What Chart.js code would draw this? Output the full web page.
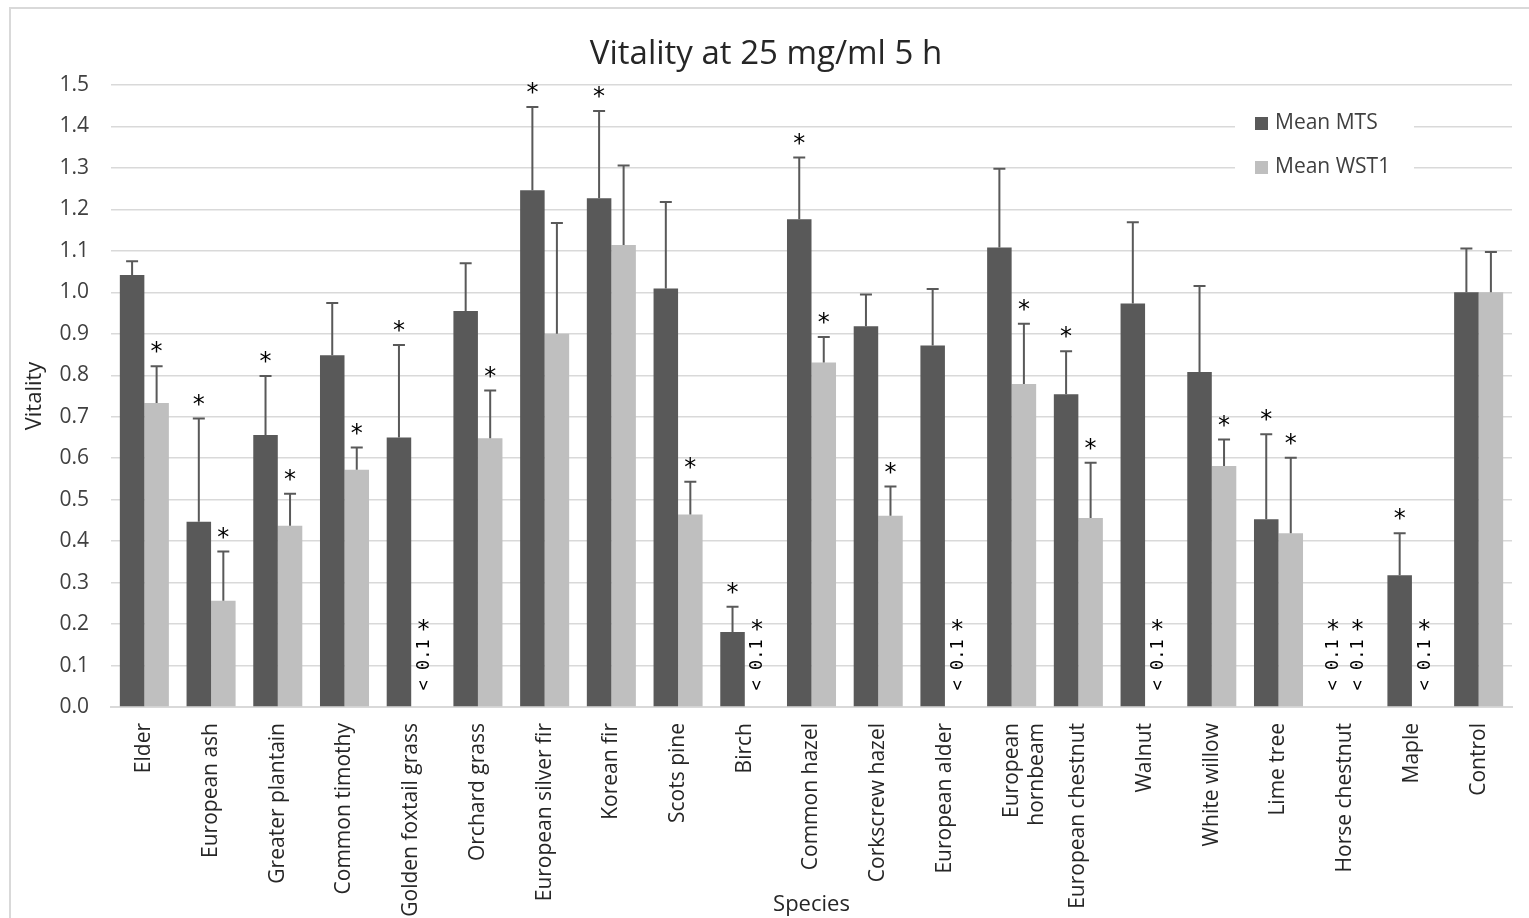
<!DOCTYPE html>
<html>
<head>
<meta charset="utf-8">
<title>Vitality at 25 mg/ml 5 h</title>
<script src="https://cdn.jsdelivr.net/npm/chart.js@4.4.1/dist/chart.umd.min.js"></script>
<style>
  body { margin: 0; background: #fff; }
  #chart { display: block; }
</style>
</head>
<body>
<canvas id="chart" width="1529" height="918"></canvas>
<script>
const categories = [
    'Elder', 'European ash', 'Greater plantain', 'Common timothy', 'Golden foxtail grass',
    'Orchard grass', 'European silver fir', 'Korean fir', 'Scots pine', 'Birch',
    'Common hazel', 'Corkscrew hazel', 'European alder', ['European', 'hornbeam'],
    'European chestnut', 'Walnut', 'White willow', 'Lime tree', 'Horse chestnut', 'Maple', 'Control'
];

// null = below 0.1, shown as "< 0.1"
const mtsMean = [1.042, 0.447, 0.656, 0.848, 0.650, 0.955, 1.246, 1.227, 1.009, 0.181,
    1.176, 0.918, 0.872, 1.108, 0.754, 0.973, 0.808, 0.453, null, 0.318, 1.000];
const mtsErr = [0.033, 0.249, 0.142, 0.126, 0.223, 0.115, 0.201, 0.210, 0.209, 0.061,
    0.149, 0.077, 0.136, 0.190, 0.104, 0.196, 0.207, 0.205, null, 0.101, 0.106];
const mtsSig = [false, true, true, false, true, false, true, true, false, true,
    true, false, false, false, true, false, false, true, true, true, false];

const wst1Mean = [0.733, 0.256, 0.437, 0.572, null, 0.648, 0.900, 1.114, 0.464, null,
    0.831, 0.461, null, 0.779, 0.456, null, 0.581, 0.419, null, null, 1.000];
const wst1Err = [0.089, 0.119, 0.077, 0.054, null, 0.115, 0.267, 0.192, 0.079, null,
    0.061, 0.071, null, 0.145, 0.133, null, 0.064, 0.182, null, null, 0.097];
const wst1Sig = [true, true, true, true, true, true, false, false, true, true,
    true, true, true, true, true, true, true, true, true, true, false];

const yTicks = ['0.0', '0.1', '0.2', '0.3', '0.4', '0.5', '0.6', '0.7',
    '0.8', '0.9', '1.0', '1.1', '1.2', '1.3', '1.4', '1.5'];

const darkGray = '#595959';
const lightGray = '#bfbfbf';
const catPct = 0.735;

const series = [
    { mean: mtsMean, err: mtsErr, sig: mtsSig },
    { mean: wst1Mean, err: wst1Err, sig: wst1Sig }
];

// error bars, asterisks, "< 0.1" notes and the legend box
const extras = {
    id: 'extras',
    afterDatasetsDraw(chart) {
        const ctx = chart.ctx;
        const x = chart.scales.x;
        const y = chart.scales.y;
        const barW = x.width / categories.length * catPct / 2;
        ctx.save();
        series.forEach((s, di) => {
            for (let i = 0; i < categories.length; i++) {
                const xc = x.getPixelForValue(i) + (di === 0 ? -barW / 2 : barW / 2);
                if (s.mean[i] === null) {
                    ctx.save();
                    ctx.translate(xc, y.getPixelForValue(0.04));
                    ctx.rotate(-Math.PI / 2);
                    ctx.fillStyle = '#000';
                    ctx.font = '17px "DejaVu Sans Mono"';
                    ctx.textAlign = 'left';
                    ctx.textBaseline = 'middle';
                    ctx.fillText('< 0.1', 0, 1);
                    ctx.restore();
                    if (s.sig[i]) drawStar(ctx, xc, y.getPixelForValue(0.195));
                    continue;
                }
                const top = y.getPixelForValue(s.mean[i] + s.err[i]);
                ctx.strokeStyle = darkGray;
                ctx.lineWidth = 2;
                ctx.beginPath();
                ctx.moveTo(xc, y.getPixelForValue(s.mean[i]));
                ctx.lineTo(xc, top);
                ctx.moveTo(xc - 6, top);
                ctx.lineTo(xc + 6, top);
                ctx.stroke();
                if (s.sig[i]) drawStar(ctx, xc, top - 18);
            }
        });

        // legend
        const lx = chart.chartArea.right - 277;
        const ly = chart.chartArea.top + 15;
        ctx.fillStyle = '#fff';
        ctx.fillRect(lx, ly, 179, 90);
        const items = [['Mean MTS', darkGray], ['Mean WST1', lightGray]];
        items.forEach((it, k) => {
            const cy = ly + 23 + k * 44;
            ctx.fillStyle = it[1];
            ctx.fillRect(lx + 20, cy - 6, 13, 13);
            ctx.fillStyle = '#404040';
            ctx.font = '21px "Open Sans"';
            ctx.textAlign = 'left';
            ctx.textBaseline = 'middle';
            ctx.fillText(it[0], lx + 40, cy);
        });
        ctx.restore();
    },
    afterDraw(chart) {
        const ctx = chart.ctx;
        ctx.save();
        ctx.strokeStyle = '#d9d9d9';
        ctx.lineWidth = 2;
        ctx.beginPath();
        ctx.moveTo(10, 930);
        ctx.lineTo(10, 8);
        ctx.lineTo(1529, 8);
        ctx.stroke();
        ctx.restore();
    }
};

function drawStar(ctx, xc, yc) {
    ctx.save();
    ctx.fillStyle = '#000';
    ctx.font = '24px "DejaVu Sans"';
    ctx.textAlign = 'center';
    ctx.textBaseline = 'middle';
    ctx.fillText('*', xc, yc + 5);
    ctx.restore();
}

const ctx = document.getElementById('chart').getContext('2d');
new Chart(ctx, {
    type: 'bar',
    data: {
        labels: categories,
        datasets: [
            { label: 'Mean MTS', data: mtsMean, backgroundColor: darkGray },
            { label: 'Mean WST1', data: wst1Mean, backgroundColor: lightGray }
        ]
    },
    options: {
        responsive: false,
        animation: false,
        datasets: { bar: { categoryPercentage: catPct, barPercentage: 1 } },
        layout: { padding: { left: 20, right: 17, top: 10, bottom: 0 } },
        plugins: {
            legend: { display: false },
            tooltip: { enabled: false },
            title: {
                display: true,
                text: 'Vitality at 25 mg/ml 5 h',
                color: '#262626',
                font: { family: 'Open Sans', size: 33, weight: 'normal' },
                padding: { top: 25, bottom: 10.4 }
            }
        },
        scales: {
            x: {
                grid: { display: false },
                border: { color: '#d9d9d9', width: 2 },
                ticks: {
                    minRotation: 90, maxRotation: 90, autoSkip: false, padding: 8,
                    color: '#262626', font: { family: 'Open Sans', size: 21 }
                },
                title: {
                    display: true, text: 'Species', color: '#262626',
                    font: { family: 'Open Sans', size: 22 }, padding: { top: 0, bottom: 0 }
                },
                afterFit(scale) { scale.height = 211; }
            },
            y: {
                min: 0,
                max: 1.5,
                grid: { color: '#d9d9d9', lineWidth: 1.5, drawTicks: false },
                border: { display: false },
                ticks: {
                    stepSize: 0.1, padding: 22, color: '#404040',
                    font: { family: 'Open Sans', size: 21 },
                    callback: (v, i) => yTicks[i]
                },
                title: {
                    display: true, text: 'Vitality', color: '#262626',
                    font: { family: 'Open Sans', size: 22 }, padding: { top: 2, bottom: 4 }
                },
                afterFit(scale) { scale.width = 91; }
            }
        }
    },
    plugins: [extras]
});
</script>
</body>
</html>
